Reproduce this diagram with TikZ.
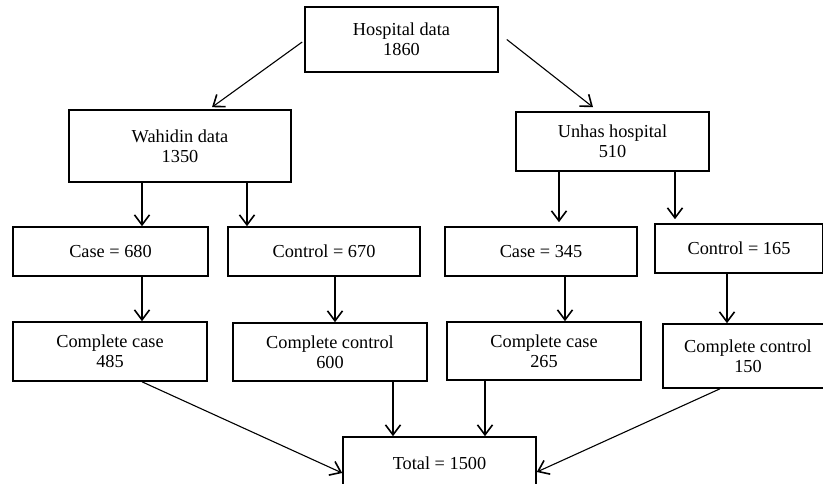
\documentclass[tikz,border=0pt]{standalone}
\usepackage{fontspec}
\setmainfont{Liberation Serif}
\usetikzlibrary{arrows.meta}
\tikzset{
  box/.style={draw, line width=1.6pt, rectangle, inner sep=0pt, align=center,
    font=\fontsize{18.3pt}{20pt}\selectfont},
  arr/.style={line width=1.1pt, -{Straight Barb[length=10pt,width=15pt,line width=1.6pt]}}
}
\begin{document}
\begin{tikzpicture}[x=1pt,y=-1pt]
\useasboundingbox (0,0) rectangle (823,484);
\node[box, minimum width=193pt, minimum height=65pt] (hosp) at (401.5,39.5) {Hospital data\\1860};
\node[box, minimum width=222pt, minimum height=72pt] (wah) at (180,146) {Wahidin data\\1350};
\node[box, minimum width=193pt, minimum height=59pt] (unh) at (612.5,141.5) {Unhas hospital\\510};
\node[box, minimum width=195pt, minimum height=49pt] (c680) at (110.5,251.5) {Case = 680};
\node[box, minimum width=192pt, minimum height=49pt] (c670) at (324,251.5) {Control = 670};
\node[box, minimum width=192pt, minimum height=49pt] (c345) at (541,251.5) {Case = 345};
\node[box, minimum width=168pt, minimum height=49pt] (c165) at (739,248.5) {Control = 165};
\node[box, minimum width=194pt, minimum height=59pt] (cc485) at (110,351.5) {Complete case\\485};
\node[box, minimum width=194pt, minimum height=58pt] (cc600) at (330,352) {Complete control\\600};
\node[box, minimum width=194pt, minimum height=58pt] (cc265) at (544,351) {Complete case\\265};
\node[box, minimum width=170pt, minimum height=64pt] (cc150) at (748,356) {Complete control\\150};
\node[box, minimum width=193pt, minimum height=52pt] (total) at (439.5,463) {Total = 1500};

\draw[arr] ([xshift=-2pt,yshift=-2.5pt]hosp.west) -- ([xshift=32pt,yshift=2pt]wah.north);
\draw[arr] ([xshift=8pt]hosp.east) -- ([xshift=-19.5pt,yshift=4pt]unh.north);
\draw[arr] ([xshift=-38pt]wah.south) -- ([xshift=-38pt]wah.south |- c680.north);
\draw[arr] ([xshift=67pt]wah.south) -- ([xshift=67pt]wah.south |- c670.north);
\draw[arr, shorten >=4pt] ([xshift=-53.5pt]unh.south) -- ([xshift=-53.5pt]unh.south |- c345.north);
\draw[arr, shorten >=4pt] ([xshift=62.5pt]unh.south) -- ([xshift=62.5pt]unh.south |- c165.north);
\draw[arr] ([xshift=31.5pt]c680.south) -- ([xshift=31.5pt]c680.south |- cc485.north);
\draw[arr] ([xshift=11pt]c670.south) -- ([xshift=11pt]c670.south |- cc600.north);
\draw[arr] ([xshift=24pt]c345.south) -- ([xshift=24pt]c345.south |- cc265.north);
\draw[arr] ([xshift=-12pt]c165.south) -- ([xshift=-12pt]c165.south |- cc150.north);
\draw[arr] ([xshift=32pt]cc485.south) -- ([yshift=-10pt]total.west);
\draw[arr] ([xshift=63pt]cc600.south) -- ([xshift=63pt]cc600.south |- total.north);
\draw[arr] ([xshift=-59pt]cc265.south) -- ([xshift=-59pt]cc265.south |- total.north);
\draw[arr] ([xshift=-28pt]cc150.south) -- ([yshift=-9pt]total.east);
\end{tikzpicture}
\end{document}
